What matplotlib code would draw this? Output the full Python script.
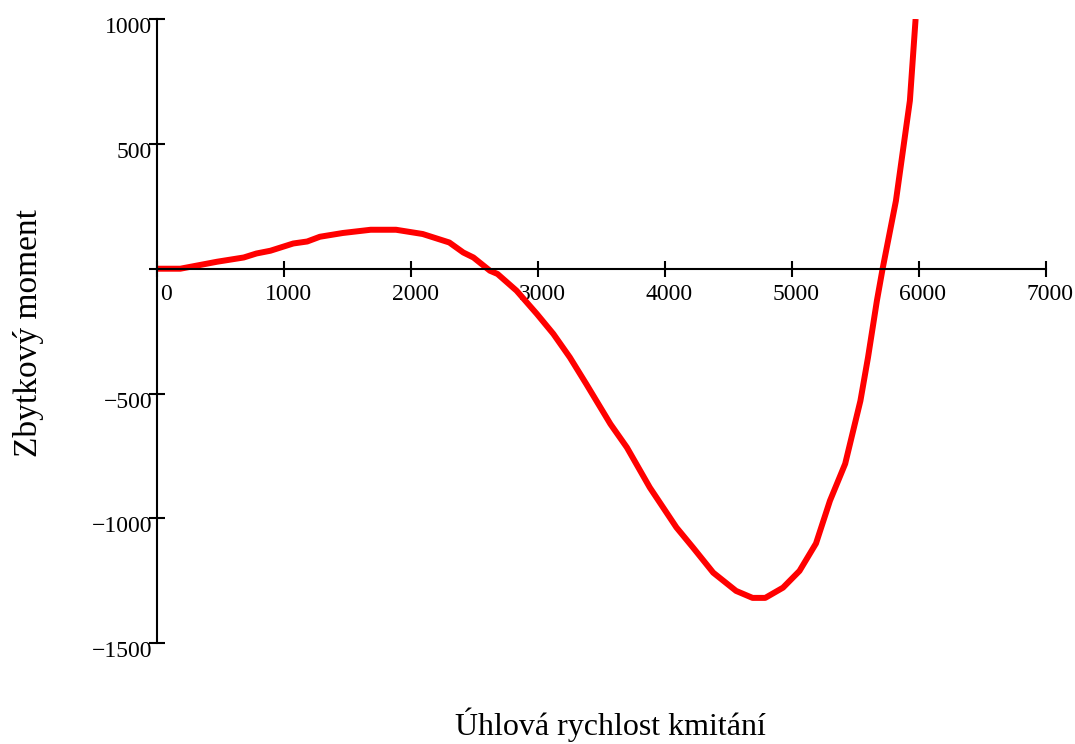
import matplotlib
matplotlib.use("Agg")
import matplotlib.pyplot as plt
import matplotlib.transforms as mtransforms

plt.rcParams['font.family'] = ['Liberation Serif', 'DejaVu Serif']

# curve (angular speed vs residual moment)
omega = [0, 180, 470, 680, 780, 890, 1070, 1180, 1280, 1460, 1680, 1880,
         2090, 2300, 2410, 2490, 2620, 2680, 2830, 2990, 3120, 3250, 3380,
         3570, 3700, 3880, 4090, 4220, 4380, 4560, 4690, 4790, 4930, 5060,
         5190, 5300, 5420, 5540, 5600, 5670, 5715, 5820, 5930, 5975]
moment = [0, 0, 28, 45, 61, 72, 101, 109, 128, 143, 156, 156,
          139, 105, 65, 45, -8, -21, -88, -181, -261, -355, -462,
          -622, -716, -876, -1036, -1116, -1217, -1290, -1318, -1318, -1277, -1210,
          -1100, -929, -781, -529, -355, -128, 0, 272, 673, 1000]

x_ticks = [0, 1000, 2000, 3000, 4000, 5000, 6000, 7000]
y_ticks = [-1500, -1000, -500, 0, 500, 1000]
y_ticklabels = ['\u22121500', '\u22121000', '\u2212500', '', '500', '1000']

fig = plt.figure(figsize=(10.75, 7.44), dpi=100)
ax = fig.add_axes([0.1465, 0.1353, 0.8262, 0.8392])

ax.plot(omega, moment, color='#ff0000', linewidth=4.3, solid_capstyle='butt')

ax.set_xlim(0, 7000)
ax.set_ylim(-1500, 1000)

for s in ['top', 'right']:
    ax.spines[s].set_visible(False)
ax.spines['bottom'].set_position(('data', 0))
ax.spines['left'].set_linewidth(1.5)
ax.spines['bottom'].set_linewidth(1.5)

ax.set_xticks(x_ticks)
ax.set_xticklabels([str(v) for v in x_ticks])
ax.set_yticks(y_ticks)
ax.set_yticklabels(y_ticklabels)

ax.tick_params(axis='both', direction='inout', length=11.5, width=1.5,
               labelsize=17, colors='black')
ax.tick_params(axis='y', pad=-1.8)
ax.tick_params(axis='x', pad=5)

# small shifts like the original layout
for lbl in ax.get_yticklabels():
    lbl.set_transform(lbl.get_transform() +
                      mtransforms.ScaledTranslation(0, -0.06, fig.dpi_scale_trans))
xl = ax.get_xticklabels()
for i, lbl in enumerate(xl):
    dx = 0.09 if i == 0 else 0.04
    lbl.set_transform(lbl.get_transform() +
                      mtransforms.ScaledTranslation(dx, 0, fig.dpi_scale_trans))

fig.text(610 / 1075, 1 - 735 / 744, 'Úhlová rychlost kmitání', fontsize=23,
         ha='center', va='baseline')
fig.text(29 / 1075, 1 - 333 / 744, 'Zbytkový moment', fontsize=24,
         ha='center', va='center', rotation=90)

fig.savefig('out.png', dpi=100)
